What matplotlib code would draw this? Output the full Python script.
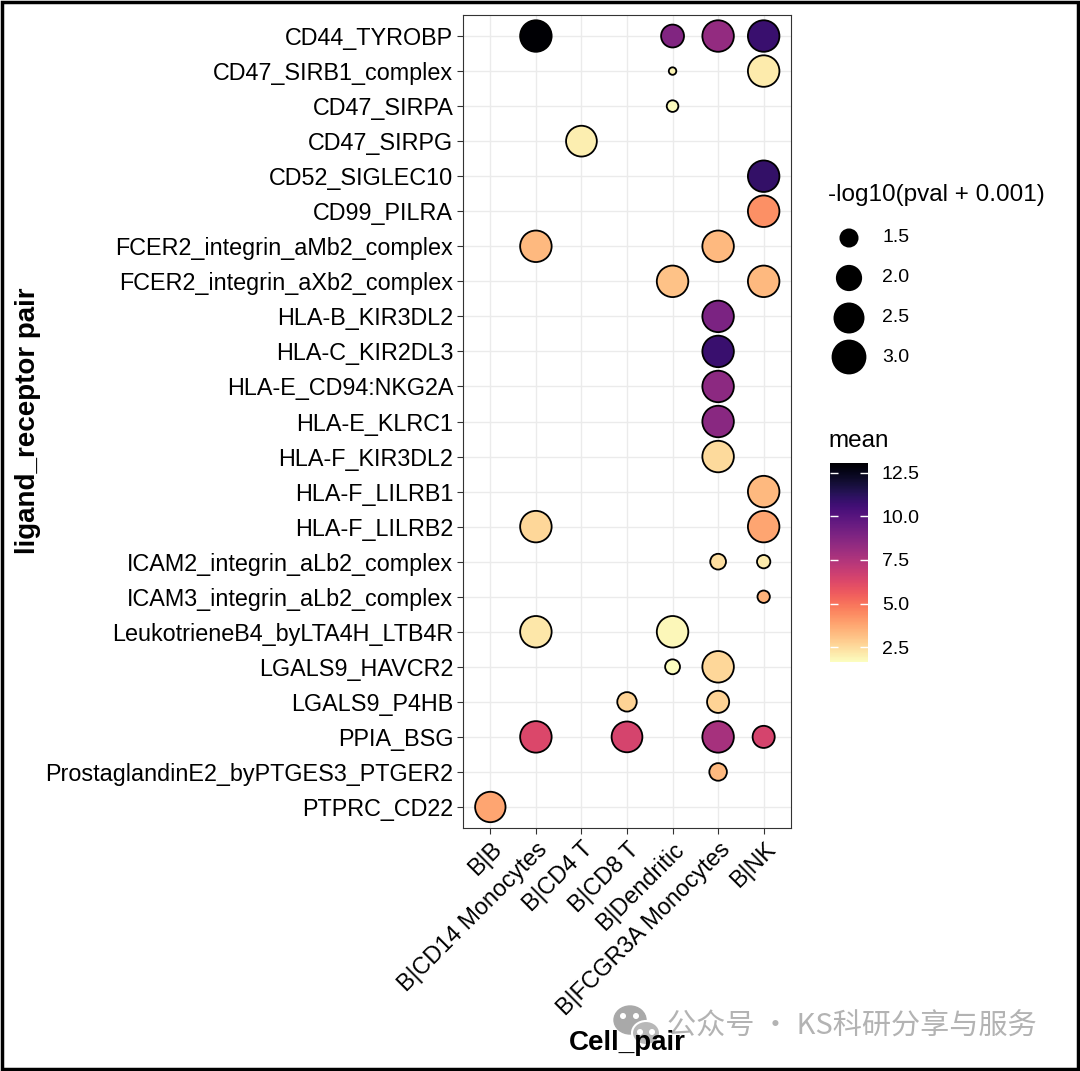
import matplotlib
matplotlib.use("Agg")
import matplotlib.pyplot as plt
import matplotlib.patches as mpatches
import numpy as np
from matplotlib.colors import Normalize
from matplotlib.cm import ScalarMappable

plt.rcParams['font.family'] = ['Liberation Sans', 'DejaVu Sans']

# categories
cell_pairs = ['B|B', 'B|CD14 Monocytes', 'B|CD4 T', 'B|CD8 T', 'B|Dendritic',
              'B|FCGR3A Monocytes', 'B|NK']
lr_pairs = ['CD44_TYROBP', 'CD47_SIRB1_complex', 'CD47_SIRPA', 'CD47_SIRPG',
            'CD52_SIGLEC10', 'CD99_PILRA', 'FCER2_integrin_aMb2_complex',
            'FCER2_integrin_aXb2_complex', 'HLA-B_KIR3DL2', 'HLA-C_KIR2DL3',
            'HLA-E_CD94:NKG2A', 'HLA-E_KLRC1', 'HLA-F_KIR3DL2', 'HLA-F_LILRB1',
            'HLA-F_LILRB2', 'ICAM2_integrin_aLb2_complex',
            'ICAM3_integrin_aLb2_complex', 'LeukotrieneB4_byLTA4H_LTB4R',
            'LGALS9_HAVCR2', 'LGALS9_P4HB', 'PPIA_BSG',
            'ProstaglandinE2_byPTGES3_PTGER2', 'PTPRC_CD22']

# one entry per dot
dot_pair = ['CD44_TYROBP', 'CD44_TYROBP', 'CD44_TYROBP', 'CD44_TYROBP',
            'CD47_SIRB1_complex', 'CD47_SIRB1_complex', 'CD47_SIRPA', 'CD47_SIRPG',
            'CD52_SIGLEC10', 'CD99_PILRA',
            'FCER2_integrin_aMb2_complex', 'FCER2_integrin_aMb2_complex',
            'FCER2_integrin_aXb2_complex', 'FCER2_integrin_aXb2_complex',
            'HLA-B_KIR3DL2', 'HLA-C_KIR2DL3', 'HLA-E_CD94:NKG2A', 'HLA-E_KLRC1',
            'HLA-F_KIR3DL2', 'HLA-F_LILRB1', 'HLA-F_LILRB2', 'HLA-F_LILRB2',
            'ICAM2_integrin_aLb2_complex', 'ICAM2_integrin_aLb2_complex',
            'ICAM3_integrin_aLb2_complex',
            'LeukotrieneB4_byLTA4H_LTB4R', 'LeukotrieneB4_byLTA4H_LTB4R',
            'LGALS9_HAVCR2', 'LGALS9_HAVCR2', 'LGALS9_P4HB', 'LGALS9_P4HB',
            'PPIA_BSG', 'PPIA_BSG', 'PPIA_BSG', 'PPIA_BSG',
            'ProstaglandinE2_byPTGES3_PTGER2', 'PTPRC_CD22']
dot_cell = ['B|CD14 Monocytes', 'B|Dendritic', 'B|FCGR3A Monocytes', 'B|NK',
            'B|Dendritic', 'B|NK', 'B|Dendritic', 'B|CD4 T',
            'B|NK', 'B|NK',
            'B|CD14 Monocytes', 'B|FCGR3A Monocytes',
            'B|Dendritic', 'B|NK',
            'B|FCGR3A Monocytes', 'B|FCGR3A Monocytes', 'B|FCGR3A Monocytes', 'B|FCGR3A Monocytes',
            'B|FCGR3A Monocytes', 'B|NK', 'B|CD14 Monocytes', 'B|NK',
            'B|FCGR3A Monocytes', 'B|NK',
            'B|NK',
            'B|CD14 Monocytes', 'B|Dendritic',
            'B|Dendritic', 'B|FCGR3A Monocytes', 'B|CD8 T', 'B|FCGR3A Monocytes',
            'B|CD14 Monocytes', 'B|CD8 T', 'B|FCGR3A Monocytes', 'B|NK',
            'B|FCGR3A Monocytes', 'B|B']
dot_mean = [13.07, 8.8, 8.3, 10.8,
            1.9, 2.1, 1.7, 2.0,
            11.0, 4.3,
            3.3, 3.3,
            3.1, 3.3,
            9.0, 10.8, 8.5, 8.6,
            2.5, 3.3, 2.6, 3.8,
            2.4, 2.1,
            3.5,
            2.2, 1.8,
            1.64, 2.6, 2.7, 2.7,
            6.3, 6.5, 7.8, 6.5,
            3.3, 3.8]
dot_logp = [3.0, 2.0, 3.0, 3.0,
            1.3, 3.0, 1.35, 2.9,
            3.0, 3.0,
            3.0, 3.0,
            3.0, 3.0,
            3.0, 3.0, 3.0, 3.0,
            3.0, 3.0, 3.0, 3.0,
            1.5, 1.4,
            1.37,
            3.0, 3.0,
            1.46, 3.0, 1.72, 1.93,
            3.0, 2.9, 3.0, 1.93,
            1.6, 2.85]

size_breaks = [1.5, 2.0, 2.5, 3.0]
mean_breaks = [2.5, 5.0, 7.5, 10.0, 12.5]

W, H = 1080, 1071
fig = plt.figure(figsize=(W / 100, H / 100), dpi=100)

def px2fig(x0, y0, x1, y1):
    return [x0 / W, 1 - y1 / H, (x1 - x0) / W, (y1 - y0) / H]

lo, hi = 1.3, 3.0
def marker_s(v, extra=0.0):
    v = np.asarray(v, dtype=float)
    d = 9 + 24 * np.sqrt(np.clip((v - lo) / (hi - lo), 0, 1)) + extra
    return ((d - 1.5) * 0.72) ** 2

cmap = plt.get_cmap('magma_r')
norm = Normalize(vmin=min(dot_mean), vmax=max(dot_mean))

ax = fig.add_axes(px2fig(463, 15, 791, 828))
n = len(lr_pairs)
xs = [cell_pairs.index(c) for c in dot_cell]
ys = [n - 1 - lr_pairs.index(p) for p in dot_pair]
ax.scatter(xs, ys, s=marker_s(dot_logp), c=dot_mean, cmap=cmap, norm=norm,
           edgecolors='black', linewidths=1.3, zorder=3)

ax.set_xlim(-0.6, len(cell_pairs) - 0.4)
ax.set_ylim(-0.6, n - 0.4)
ax.set_xticks(range(len(cell_pairs)))
ax.set_xticklabels(cell_pairs, rotation=45, ha='right', va='top',
                   rotation_mode='anchor', fontsize=16.8, color='black')
ax.set_yticks(range(n))
ax.set_yticklabels(lr_pairs[::-1], fontsize=16.8, color='black')
ax.tick_params(length=4, width=0.8, color='#333333', pad=3)
ax.grid(True, color='#ebebeb', lw=1.0)
ax.set_axisbelow(True)
for sp in ax.spines.values():
    sp.set_color('#333333')
    sp.set_linewidth(0.8)

fig.text(627 / W, 1 - 1043 / H, 'Cell_pair', ha='center', va='center',
         fontsize=20, fontweight='bold')
fig.text(28 / W, 1 - 421 / H, 'ligand_receptor pair', ha='center', va='center',
         rotation=90, fontsize=20, fontweight='bold')

# overlay in pixel coordinates for legends, watermark, frame
ov = fig.add_axes([0, 0, 1, 1])
ov.set_xlim(0, W)
ov.set_ylim(H, 0)
ov.axis('off')

ov.text(828, 195, '-log10(pval + 0.001)', ha='left', va='center', fontsize=17.5)
key_y = [238, 278, 318, 357]
ov.scatter([849] * len(size_breaks), key_y, s=marker_s(size_breaks, extra=1.5),
           color='black', edgecolors='black', linewidths=1.3)
for yy, b in zip(key_y, size_breaks):
    ov.text(882, yy, f'{b:.1f}', ha='left', va='center', fontsize=14)

ov.text(828, 441, 'mean', ha='left', va='center', fontsize=17.5)
cax = fig.add_axes(px2fig(830, 463, 868, 662))
cb = fig.colorbar(ScalarMappable(norm=norm, cmap=cmap), cax=cax, ticks=mean_breaks)
cb.outline.set_visible(False)
cb.ax.set_yticklabels([f'{b:.1f}' for b in mean_breaks])
cax.tick_params(axis='y', direction='in', length=6, width=1, colors='white',
                left=True, right=True, labelcolor='black', labelsize=14, pad=10)

# watermark
ov.add_patch(mpatches.Ellipse((630, 1020), 32, 28, color='#a9a9a9'))
ov.add_patch(mpatches.Ellipse((646, 1033), 28, 24, facecolor='#b8b8b8',
                              edgecolor='white', lw=1.5))
for ex, ey in [(623, 1016), (636, 1016), (640, 1032), (652, 1032)]:
    ov.add_patch(mpatches.Circle((ex, ey), 2.3, color='white'))
ov.text(667, 1027, '公众号 · KS科研分享与服务', ha='left', va='center', fontsize=21,
        color='#b3b3b3', family=['Noto Sans CJK SC', 'DejaVu Sans'])

# outer frame
ov.add_patch(mpatches.Rectangle((1.5, 1.5), W - 4, H - 4, fill=False,
                                edgecolor='black', lw=2.5))

fig.savefig('out.png', dpi=100)
